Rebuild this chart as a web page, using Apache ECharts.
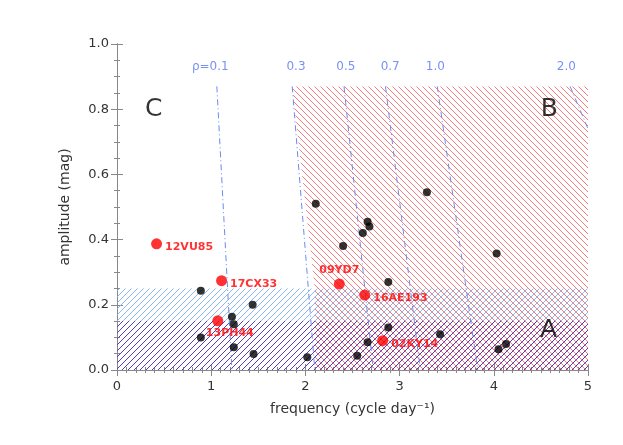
<!DOCTYPE html>
<html><head><meta charset="utf-8">
<script src="https://cdn.jsdelivr.net/npm/echarts@6/dist/echarts.min.js"></script>
<style>html,body{margin:0;padding:0;background:#fff}#c{width:623px;height:445px}</style>
</head><body><div id="c"></div>
<script>
const blackPts = [[2.11,0.51],[3.29,0.545],[2.66,0.455],[2.68,0.44],[2.61,0.42],[2.40,0.38],[4.03,0.357],[2.88,0.27],[0.89,0.243],[1.44,0.20],[1.22,0.163],[1.24,0.14],[2.88,0.13],[0.89,0.10],[3.43,0.11],[2.66,0.085],[1.24,0.07],[4.13,0.08],[4.05,0.064],[1.45,0.049],[2.55,0.044],[2.02,0.039]];
const redNames = ['12VU85','17CX33','09YD7','16AE193','13PH44','02KY14'];
const redX = [0.42,1.11,2.36,2.63,1.07,2.82];
const redY = [0.387,0.274,0.264,0.23,0.151,0.09];
const rhoLabels = ['ρ=0.1','0.3','0.5','0.7','1.0','2.0'];
const rhoLabelX = [0.99,1.90,2.43,2.90,3.38,4.77];
const rhoTopX = [1.06,1.86,2.41,2.85,3.40,4.81];
const rhoBotX = [1.22,2.10,2.72,3.22,3.83,5.00];
const rhoBotY = [0,0,0,0,0,0.74];
const regionB = [[1.86,0.87],[5,0.87],[5,0],[2.1,0],[2.1,0.25]];
const regionBlue = [[0,0.25],[5,0.25],[5,0],[0,0]];
const regionPurple = [[0,0.15],[5,0.15],[5,0],[0,0]];
const zoneLetters = [['C',0.39,0.80],['B',4.59,0.80],['A',4.58,0.12]];

function hatch(color, dir, step){
  const c=document.createElement('canvas'); c.width=step; c.height=step;
  const g=c.getContext('2d'); g.strokeStyle=color; g.lineWidth=0.9;
  g.beginPath();
  if(dir==='/'){ for(const o of [-step,0,step]){ g.moveTo(o,step); g.lineTo(o+step,0);} }
  else { for(const o of [-step,0,step]){ g.moveTo(o,0); g.lineTo(o+step,step);} }
  g.stroke(); return c;
}
function poly(pts, fill){
  return {type:'custom', silent:true, z:1, data:[0],
    renderItem:(p,api)=>({type:'polygon', shape:{points:pts.map(q=>api.coord(q))}, style:{fill:fill}})};
}
const ch=echarts.init(document.getElementById('c'),null,{renderer:'canvas'});
const txt='#333';
const axisCommon={axisLine:{lineStyle:{color:'#888'}},axisTick:{inside:true,length:6,lineStyle:{color:'#888'}},
  minorTick:{show:true,length:3,lineStyle:{color:'#888'}},splitLine:{show:false}};
const series=[
  poly(regionB,{image:hatch('#f07070','\\',6),repeat:'repeat'}),
  poly(regionBlue,{image:hatch('#80b0f0','/',6),repeat:'repeat'}),
  poly(regionPurple,{image:hatch('#5030b0','/',6),repeat:'repeat'}),
];
rhoTopX.forEach((t,i)=>series.push({type:'line',silent:true,symbol:'none',z:3,
  data:[[t,0.87],[rhoBotX[i],rhoBotY[i]]],lineStyle:{color:'#6a8cf0',width:1,type:[6,3,1,3]}}));
series.push({type:'scatter',symbolSize:0,silent:true,z:4,data:rhoLabels.map((l,i)=>[rhoLabelX[i],0.93,l]),
  label:{show:true,position:'inside',formatter:p=>p.data[2],color:'#5577ee',fontSize:12,fontFamily:'DejaVu Sans'}});
series.push({type:'scatter',symbolSize:0,silent:true,z:4,data:zoneLetters.map(z=>[z[1],z[2],z[0]]),
  label:{show:true,position:'inside',formatter:p=>p.data[2],color:'#000',fontSize:25,fontFamily:'DejaVu Sans'}});
series.push({type:'scatter',z:5,symbolSize:8,itemStyle:{color:'#000'},data:blackPts});
const redPos=[['right',[0,3]],['right',[0,3]],['top',[0,0]],['right',[0,3]],['bottom',[12,-2]],['right',[0,3]]];
series.push({type:'scatter',z:6,symbolSize:11,itemStyle:{color:'#ff0000'},
  data:redX.map((x,i)=>({value:[x,redY[i]],name:redNames[i],label:{position:redPos[i][0],offset:redPos[i][1]}})),
  label:{show:true,formatter:p=>p.name,color:'#ff0000',fontWeight:'bold',fontSize:11,fontFamily:'DejaVu Sans',distance:3}});
ch.setOption({animation:false,
  grid:{left:117,right:35,top:44,bottom:75,show:false},
  xAxis:[{type:'value',min:0,max:5,interval:1,minorTick:{show:true,splitNumber:10},...axisCommon,minorTick:{show:true,splitNumber:10,length:3,lineStyle:{color:'#888'}},
    axisLabel:{color:txt,fontSize:13,margin:10,fontFamily:'DejaVu Sans'},name:'frequency (cycle day⁻¹)',nameLocation:'middle',nameGap:32,
    nameTextStyle:{color:txt,fontSize:14,fontFamily:'DejaVu Sans'}},
    {type:'value',min:0,max:5,interval:1,position:'top',...axisCommon,minorTick:{show:true,splitNumber:10,length:3,lineStyle:{color:'#888'}},axisLabel:{show:false}}],
  yAxis:[{type:'value',min:0,max:1,interval:0.2,...axisCommon,minorTick:{show:true,splitNumber:4,length:3,lineStyle:{color:'#888'}},
    axisLabel:{color:txt,fontSize:13,formatter:v=>v.toFixed(1),fontFamily:'DejaVu Sans'},name:'amplitude (mag)',nameLocation:'middle',nameGap:45,
    nameTextStyle:{color:txt,fontSize:14,fontFamily:'DejaVu Sans'}},
    {type:'value',min:0,max:1,interval:0.2,position:'right',...axisCommon,minorTick:{show:true,splitNumber:4,length:3,lineStyle:{color:'#888'}},axisLabel:{show:false}}],
  series:series.map(s=>Object.assign({xAxisIndex:0,yAxisIndex:0},s))
});
</script></body></html>
